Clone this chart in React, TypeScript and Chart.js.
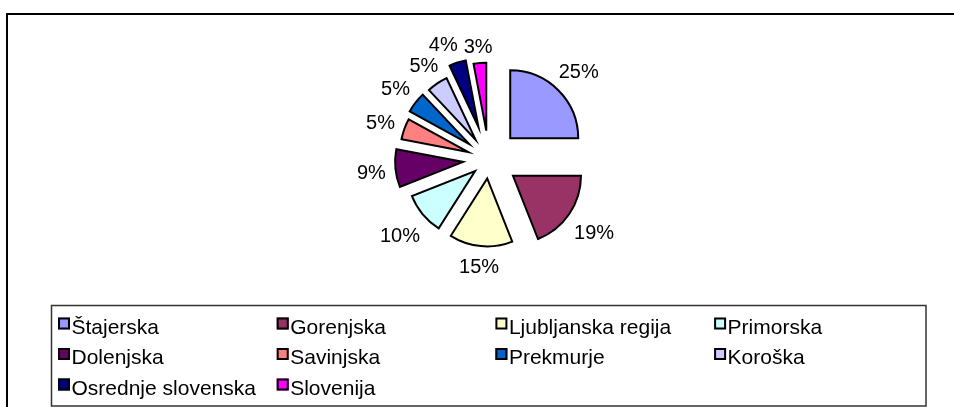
import { useEffect, useRef } from "react";
import { Chart, registerables } from "chart.js";

Chart.register(...registerables);

const categories = [
  "Štajerska",
  "Gorenjska",
  "Ljubljanska regija",
  "Primorska",
  "Dolenjska",
  "Savinjska",
  "Prekmurje",
  "Koroška",
  "Osrednje slovenska",
  "Slovenija",
];
const shares = [25, 19, 15, 10, 9, 5, 5, 5, 4, 3];
const sliceColors = [
  "#9999FF",
  "#993366",
  "#FFFFCC",
  "#CCFFFF",
  "#660066",
  "#FF8080",
  "#0066CC",
  "#CCCCFF",
  "#000080",
  "#FF00FF",
];
// style: how far each slice is pulled out of the pie (px)
const sliceExplode = [30, 29, 19, 18, 26, 22, 25, 24, 34, 29];

const FONT = '"Liberation Sans", Arial, sans-serif';
const LABEL_GAP = 9;
const LABEL_SIZE = 20;
const LEGEND_SIZE = 21;

const explodePlugin = {
  id: "explode",
  beforeDatasetDraw(chart: any, args: any) {
    const ctx = chart.ctx;
    args.meta.data.forEach((arc: any, i: number) => {
      const mid = (arc.startAngle + arc.endAngle) / 2;
      const d = sliceExplode[i] || 0;
      ctx.save();
      ctx.translate(Math.cos(mid) * d, Math.sin(mid) * d);
      arc.draw(ctx, chart.chartArea);
      ctx.restore();
    });
    return false;
  },
};

const labelPlugin = {
  id: "pctLabels",
  afterDatasetsDraw(chart: any) {
    const meta = chart.getDatasetMeta(0);
    const ctx = chart.ctx;
    const total = shares.reduce((a, b) => a + b, 0);
    ctx.save();
    ctx.font = `${LABEL_SIZE}px ${FONT}`;
    ctx.fillStyle = "#000";
    ctx.textAlign = "center";
    ctx.textBaseline = "middle";
    const boxes: { x: number; y: number; w: number; text: string }[] = [];
    meta.data.forEach((arc: any, i: number) => {
      const mid = (arc.startAngle + arc.endAngle) / 2;
      const text = Math.round((shares[i] / total) * 100) + "%";
      const w = ctx.measureText(text).width;
      const hw = w / 2;
      const hh = 8;
      const c = Math.cos(mid);
      const s = Math.sin(mid);
      const ext = hw * Math.abs(c) + hh * Math.abs(s);
      const dist = (sliceExplode[i] || 0) + arc.outerRadius + LABEL_GAP + ext;
      boxes.push({ x: arc.x + c * dist, y: arc.y + s * dist, w, text });
    });
    for (let i = boxes.length - 2; i >= 0; i--) {
      const a = boxes[i];
      const b = boxes[i + 1];
      if (Math.abs(a.y - b.y) < 16) {
        const minDx = (a.w + b.w) / 2 + 6;
        if (b.x - a.x < minDx && a.x <= b.x) a.x = b.x - minDx;
      }
    }
    boxes.forEach((b) => ctx.fillText(b.text, b.x, b.y + 3));
    ctx.restore();
  },
};

const frameLegendPlugin = {
  id: "frameLegend",
  beforeDraw(chart: any) {
    const ctx = chart.ctx;
    ctx.save();
    ctx.fillStyle = "#fff";
    ctx.fillRect(0, 0, chart.width, chart.height);
    ctx.strokeStyle = "#000";
    ctx.lineWidth = 2;
    ctx.beginPath();
    ctx.moveTo(7, 420);
    ctx.lineTo(7, 14);
    ctx.lineTo(960, 14);
    ctx.stroke();
    ctx.restore();
  },
  afterDraw(chart: any) {
    const ctx = chart.ctx;
    ctx.save();
    ctx.strokeStyle = "#333";
    ctx.lineWidth = 1.5;
    ctx.strokeRect(51.5, 305.5, 874.5, 100.5);
    ctx.font = `${LEGEND_SIZE}px ${FONT}`;
    ctx.textBaseline = "alphabetic";
    ctx.textAlign = "left";
    const cols = 4;
    const col0 = 58;
    const colStep = 218.7;
    const row0 = 323.5;
    const rowStep = 30.5;
    let prevEnd = 0;
    categories.forEach((name, i) => {
      const col = i % cols;
      const row = Math.floor(i / cols);
      let x = col0 + col * colStep;
      if (col === 0) prevEnd = 0;
      else x = Math.max(x, prevEnd + 5);
      const cy = row0 + row * rowStep;
      ctx.fillStyle = sliceColors[i];
      ctx.fillRect(x, cy - 6, 12, 12);
      ctx.strokeStyle = "#000";
      ctx.lineWidth = 2;
      ctx.strokeRect(x + 1, cy - 5, 10, 10);
      ctx.fillStyle = "#000";
      const tx = x + 13.5;
      ctx.fillText(name, tx, cy + 10);
      prevEnd = tx + ctx.measureText(name).width;
    });
    ctx.restore();
  },
};

export default function App() {
  const ref = useRef<HTMLCanvasElement | null>(null);
  useEffect(() => {
    if (!ref.current) return;
    const chart = new Chart(ref.current, {
      type: "pie",
      data: {
        labels: categories,
        datasets: [
          {
            data: shares,
            backgroundColor: sliceColors,
            borderColor: "#000",
            borderWidth: 2,
            borderJoinStyle: "miter",
            radius: 68,
          } as any,
        ],
      },
      options: {
        responsive: false,
        animation: false,
        devicePixelRatio: 1,
        events: [],
        layout: { padding: { left: 24, right: 0, top: 0, bottom: 88 } },
        plugins: {
          legend: { display: false },
          tooltip: { enabled: false },
        },
      } as any,
      plugins: [frameLegendPlugin, explodePlugin, labelPlugin],
    });
    return () => chart.destroy();
  }, []);
  return (
    <div style={{ position: "absolute", left: 0, top: 0, width: 954, height: 407, overflow: "hidden" }}>
      <canvas ref={ref} width={954} height={407} style={{ display: "block" }} />
    </div>
  );
}
